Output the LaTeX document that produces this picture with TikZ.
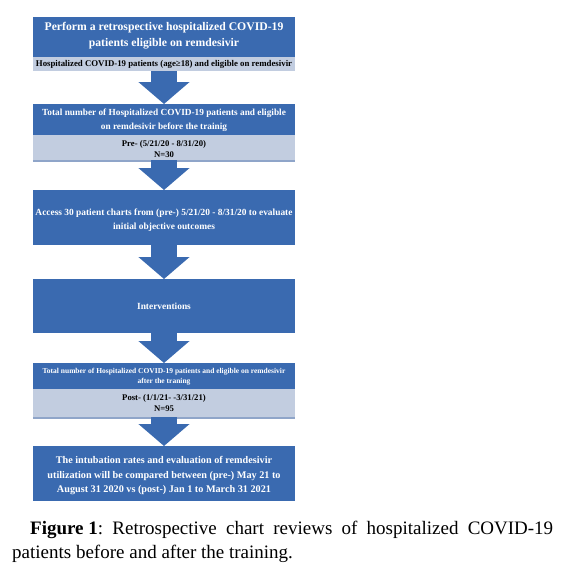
\documentclass[tikz,border=0pt]{standalone}
\usepackage{fontspec}
\setmainfont{Liberation Serif}
\usetikzlibrary{arrows.meta,positioning}
\definecolor{boxblue}{RGB}{58,106,176}
\definecolor{stripfill}{RGB}{194,205,224}
\definecolor{stripline}{RGB}{143,165,201}
\tikzset{
  bluebox/.style={rectangle,fill=boxblue,minimum width=262pt,inner sep=0pt,anchor=north},
  stripbox/.style={rectangle,fill=stripfill,minimum width=262pt,inner sep=0pt,anchor=north},
  wtext/.style={text=white,align=center,inner sep=0pt},
  btext/.style={text=black,align=center,inner sep=0pt},
  fatarrow/.style={draw=boxblue,line width=26pt,line cap=butt,-{Triangle[width=50pt,length=22pt]}},
  captext/.style={anchor=base west,inner sep=0pt,font=\fontsize{19}{24}\selectfont},
}
\frenchspacing
\begin{document}
\begin{tikzpicture}[x=1pt,y=-1pt]
\useasboundingbox (0,0) rectangle (566,566);
% boxes
\node[bluebox,minimum height=40pt] (b1) at (164,17) {};
\node[stripbox,minimum height=14pt] (s1) at (164,57) {};
\node[bluebox,minimum height=31pt] (b2) at (164,104) {};
\node[stripbox,minimum height=25pt] (s2) at (164,135) {};
\node[bluebox,minimum height=55pt] (b3) at (164,190) {};
\node[bluebox,minimum height=54pt] (b4) at (164,279) {};
\node[bluebox,minimum height=26pt] (b5) at (164,363) {};
\node[stripbox,minimum height=28pt] (s5) at (164,389) {};
\node[bluebox,minimum height=55pt] (b6) at (164,446) {};
\draw[stripline,line width=1.5pt] ([yshift=-0.75pt]s2.south west) -- ([yshift=-0.75pt]s2.south east);
\draw[stripline,line width=1.5pt] ([yshift=-0.75pt]s5.south west) -- ([yshift=-0.75pt]s5.south east);
% texts
\node[wtext,font=\fontsize{11.7}{16}\selectfont\bfseries] (t1) at (164,36) {Perform a retrospective hospitalized COVID-19\\patients eligible on remdesivir};
\node[btext,font=\fontsize{8.8}{10}\selectfont\bfseries] (t1s) at (164,64) {Hospitalized COVID-19 patients (age≥18) and eligible on remdesivir};
\node[wtext,font=\fontsize{9.3}{14}\selectfont\bfseries] (t2) at (164,120) {Total number of Hospitalized COVID-19 patients and eligible\\on remdesivir before the trainig};
\node[btext,font=\fontsize{8.7}{11}\selectfont\bfseries] (t2s) at (164,149.5) {Pre- (5/21/20 - 8/31/20)\\N=30};
\node[wtext,font=\fontsize{9.4}{14}\selectfont\bfseries] (t3) at (164,220) {Access 30 patient charts from (pre-) 5/21/20 - 8/31/20 to evaluate\\initial objective outcomes};
\node[wtext,font=\fontsize{9.4}{14}\selectfont\bfseries] (t4) at (164,306) {Interventions};
\node[wtext,font=\fontsize{7.5}{10}\selectfont\bfseries] (t5) at (164,377) {Total number of Hospitalized COVID-19 patients and eligible on remdesivir\\after the traning};
\node[btext,font=\fontsize{8.7}{11}\selectfont\bfseries] (t5s) at (164,403.5) {Post- (1/1/21- -3/31/21)\\N=95};
\node[wtext,font=\fontsize{10.2}{14.5}\selectfont\bfseries] (t6) at (164,476) {The intubation rates and evaluation of remdesivir\\utilization will be compared between (pre-) May 21 to\\August 31 2020 vs (post-) Jan 1 to March 31 2021};
% arrows
\draw[fatarrow] (s1.south) -- (b2.north);
\draw[fatarrow] (s2.south) -- (b3.north);
\draw[fatarrow] (b3.south) -- (b4.north);
\draw[fatarrow] (b4.south) -- (b5.north);
\draw[fatarrow] (s5.south) -- (b6.north);
% caption
\node[captext] (cap1) at (30,534) {\makebox[523pt][s]{\textbf{\mbox{Figure 1}}: Retrospective chart reviews of hospitalized COVID-19}};
\node[captext] (cap2) at (12,558) {patients before and after the training.};
\end{tikzpicture}
\end{document}
